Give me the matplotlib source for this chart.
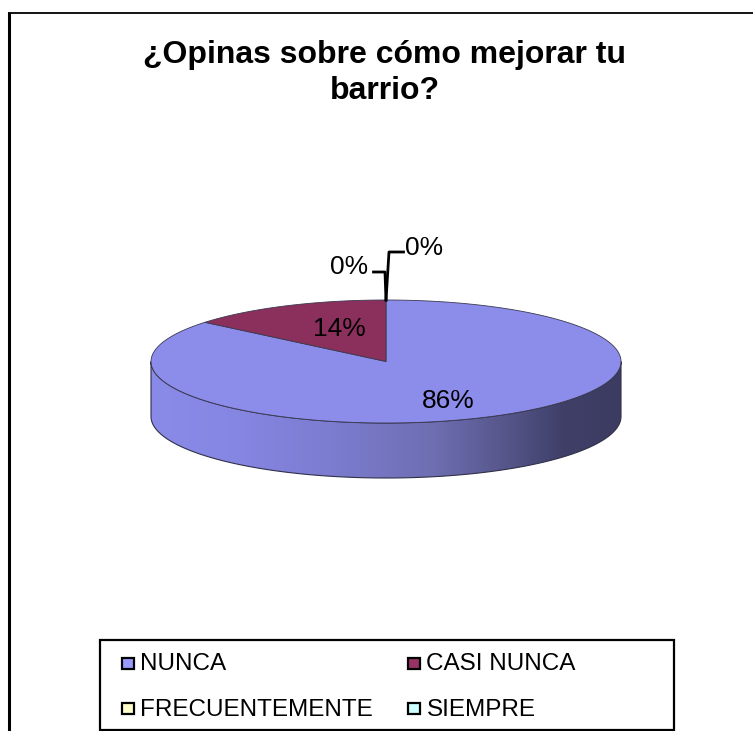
import numpy as np
import matplotlib
matplotlib.use('Agg')
import matplotlib.pyplot as plt
from matplotlib.colors import LinearSegmentedColormap
from matplotlib.patches import Polygon, Rectangle

title = '¿Opinas sobre cómo mejorar tu\nbarrio?'
categories = ['NUNCA', 'CASI NUNCA', 'FRECUENTEMENTE', 'SIEMPRE']
values = [86, 14, 0, 0]
labels = ['86%', '14%', '0%', '0%']
colors = ['#8C8CEB', '#8B2F5C', '#FFFFCC', '#CCFFFF']
legend_colors = ['#9999FF', '#993366', '#FFFFCC', '#CCFFFF']

plt.rcParams['font.family'] = ['Liberation Sans', 'DejaVu Sans']

W, H = 753, 731
fig = plt.figure(figsize=(W / 100, H / 100), dpi=100)
ax = fig.add_axes([0, 0, 1, 1])
ax.set_xlim(0, W)
ax.set_ylim(H, 0)
ax.axis('off')

# outer chart frame, only left and top are visible
ax.plot([9, 9], [H, 11.5], color='black', lw=2.2, solid_capstyle='butt')
ax.plot([8, W], [12.5, 12.5], color='black', lw=1.3, solid_capstyle='butt')

ax.text(385, 73, title, ha='center', va='center', fontsize=23, fontweight='bold',
        linespacing=1.24)

cx, cy, rx, ry, depth = 386, 361.5, 235, 61.5, 55


def rim(a0, a1, n=200):
    # angles clockwise from 12 o'clock
    t = np.radians(np.linspace(a0, a1, n))
    return cx + rx * np.sin(t), cy - ry * np.cos(t)


# side wall
xs, ys = rim(90, 270)
wall = np.vstack([np.c_[xs, ys], np.c_[xs[::-1], ys[::-1] + depth]])
wall_patch = Polygon(wall, closed=True, fc='none', ec='none')
ax.add_patch(wall_patch)
cmap = LinearSegmentedColormap.from_list('wall', [
    (0.0, '#8A8AE8'), (0.2, '#8585E2'), (0.4, '#7B7BCE'), (0.6, '#6E6EB2'),
    (0.75, '#57578C'), (0.88, '#3F3F68'), (1.0, '#3C3C62')])
grad = ax.imshow(np.linspace(0, 1, 256)[None, :], cmap=cmap, aspect='auto',
                 extent=[cx - rx, cx + rx, cy + ry + depth, cy - ry], zorder=1)
grad.set_clip_path(wall_patch)
ax.set_xlim(0, W)
ax.set_ylim(H, 0)
ax.add_patch(Polygon(wall, closed=True, fc='none', ec='#30304A', lw=0.8, zorder=2))

# top face, slices go clockwise from 12 o'clock
fracs = np.array(values) / sum(values) * 360
for val, start, col in [(fracs[0], 0, colors[0]), (fracs[1], 360 - fracs[1], colors[1])]:
    x, y = rim(start, start + val)
    ax.add_patch(Polygon(np.c_[np.r_[cx, x], np.r_[cy, y]], closed=True, fc=col,
                         ec='#3A3A50', lw=0.6, zorder=3))

# data labels
ax.text(448, 401, labels[0], ha='center', va='center', fontsize=19, zorder=5)
ax.text(339, 329, labels[1], ha='center', va='center', fontsize=19, zorder=5)
ax.text(349, 267, labels[2], ha='center', va='center', fontsize=19, zorder=5)
ax.text(424.5, 248, labels[3], ha='center', va='center', fontsize=19, zorder=5)

# leader lines
ax.plot([373.5, 385, 386], [272, 272, 300], color='black', lw=2, zorder=4)
ax.plot([403.5, 389, 386], [252, 252, 300], color='black', lw=2, zorder=4)

# legend
ax.add_patch(Rectangle((100, 639.5), 574, 90, fc='white', ec='black', lw=1.6, zorder=4))
leg_x = [128, 414.5]
leg_y = [663, 708]
for i, name in enumerate(categories):
    lx = leg_x[i % 2]
    ly = leg_y[i // 2]
    ax.add_patch(Rectangle((lx - 6, ly - 5.5), 12, 11, fc=legend_colors[i], ec='black',
                           lw=1.6, zorder=5))
    ax.text(lx + 12, ly + 1.5, name, ha='left', va='center', fontsize=17.5, zorder=5)

fig.savefig('out.png', dpi=100)
